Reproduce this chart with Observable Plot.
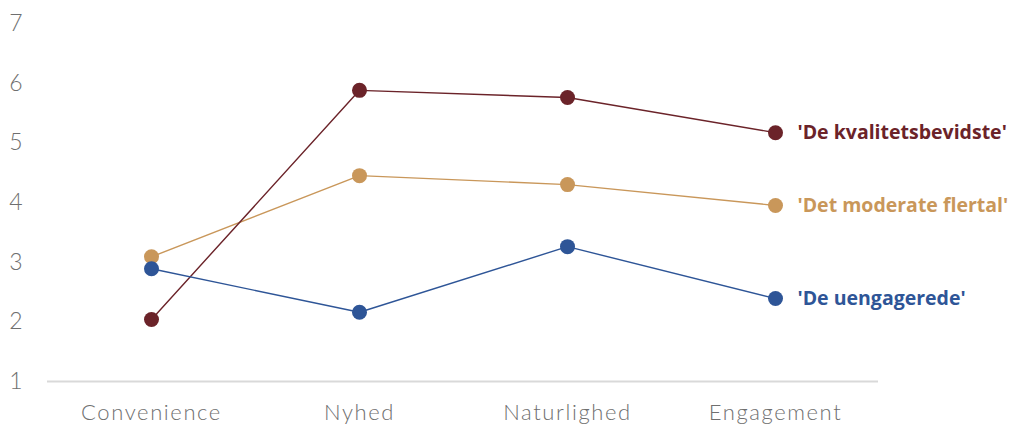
<!DOCTYPE html>
<html>
<head>
<meta charset="utf-8">
<script src="https://cdn.jsdelivr.net/npm/d3@7"></script>
<script src="https://cdn.jsdelivr.net/npm/@observablehq/plot@0.6"></script>
<style>
  html, body { margin: 0; padding: 0; background: #fff; }
  #chart svg { display: block; }
  #chart g[aria-label="x-axis tick label"] text { letter-spacing: 1.6px; }
</style>
</head>
<body>
<div id="chart"></div>
<script>
// Dimensions on the x axis
const categories = ["Convenience", "Nyhed", "Naturlighed", "Engagement"];

// Segment names and their average scores per dimension
const segments = ["'Det moderate flertal'", "'De kvalitetsbevidste'", "'De uengagerede'"];
const moderateValues = [3.09, 4.45, 4.30, 3.95];
const qualityValues = [2.04, 5.88, 5.76, 5.17];
const disengagedValues = [2.89, 2.16, 3.26, 2.39];
const segmentColors = ["#c9975a", "#6b2329", "#2e5597"];

const yTicks = [1, 2, 3, 4, 5, 6, 7];

const seriesValues = [moderateValues, qualityValues, disengagedValues];
const rows = segments.flatMap((s, i) =>
  categories.map((c, j) => ({segment: s, category: c, value: seriesValues[i][j]}))
);
const lastRows = rows.filter(d => d.category === categories[categories.length - 1]);

const axisFont = "Lato, sans-serif";

const chart = Plot.plot({
  width: 1015,
  height: 424,
  marginLeft: 47,
  marginRight: 137,
  marginTop: 23,
  marginBottom: 43,
  style: {fontFamily: axisFont, background: "#fff"},
  x: {type: "point", domain: categories, range: [150, 775], padding: 0, label: null},
  y: {domain: [1, 7], label: null},
  color: {domain: segments, range: segmentColors},
  marks: [
    Plot.ruleY([1], {stroke: "#d9d9d9", strokeWidth: 2}),
    Plot.axisY({
      ticks: yTicks, tickSize: 0, tickPadding: 25, tickFormat: d => String(d), label: null,
      fontSize: 23, fontWeight: 300, fontFamily: axisFont, fill: "#6f6f6f", textAnchor: "end"
    }),
    Plot.axisX({
      tickSize: 0, tickPadding: 23, label: null, fontSize: 22, fontWeight: 300,
      fontFamily: axisFont, fill: "#6f6f6f"
    }),
    Plot.line(rows, {x: "category", y: "value", z: "segment", stroke: "segment", strokeWidth: 1.4}),
    Plot.dot(rows, {x: "category", y: "value", fill: "segment", r: 7.5}),
    Plot.text(lastRows, {
      x: "category", y: "value", text: "segment", fill: "segment",
      dx: 22, textAnchor: "start", fontSize: 19.5, fontWeight: "bold",
      fontFamily: "'Open Sans', sans-serif"
    })
  ]
});

document.getElementById("chart").appendChild(chart);
</script>
</body>
</html>
